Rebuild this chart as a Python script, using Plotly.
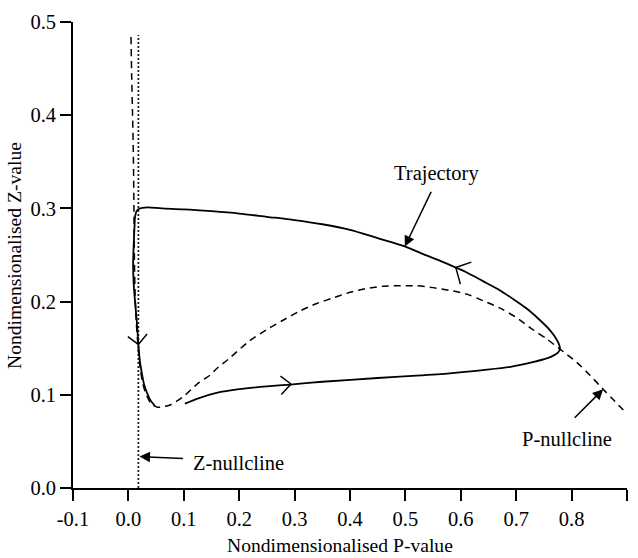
import plotly.graph_objects as go

# ---------------- data ----------------
traj_x = [0.102, 0.125, 0.159, 0.2, 0.25, 0.292, 0.35, 0.45, 0.52, 0.58, 0.64, 0.69, 0.730, 0.755, 0.767,
          0.775, 0.779, 0.778, 0.775, 0.769, 0.760, 0.743, 0.72, 0.70, 0.671, 0.64, 0.61, 0.593, 0.56,
          0.53, 0.50, 0.45, 0.40, 0.35, 0.30, 0.25, 0.20, 0.15, 0.10, 0.06, 0.035, 0.025, 0.018, 0.014,
          0.012, 0.011, 0.0095, 0.0085, 0.0095, 0.012, 0.015, 0.018, 0.021, 0.024, 0.028, 0.033, 0.040, 0.048]
traj_y = [0.0905, 0.096, 0.102, 0.106, 0.109, 0.111, 0.114, 0.118, 0.1205, 0.123, 0.1265, 0.130, 0.135, 0.139, 0.142,
          0.145, 0.149, 0.153, 0.157, 0.163, 0.170, 0.180, 0.192, 0.2005, 0.212, 0.222, 0.2315, 0.236, 0.2445,
          0.2515, 0.259, 0.268, 0.277, 0.283, 0.2875, 0.291, 0.2945, 0.297, 0.299, 0.300, 0.301, 0.3005, 0.299, 0.296,
          0.291, 0.28, 0.26, 0.24, 0.22, 0.20, 0.18, 0.154, 0.135, 0.124, 0.112, 0.103, 0.094, 0.088]

pnull_x = [0.0047, 0.006, 0.0075, 0.0089, 0.0095, 0.010, 0.0105, 0.011, 0.012, 0.014, 0.017, 0.021,
           0.026, 0.033, 0.042, 0.053, 0.065, 0.075, 0.099, 0.125, 0.147, 0.159, 0.180, 0.219, 0.25,
           0.279, 0.31, 0.340, 0.37, 0.400, 0.43, 0.460, 0.49, 0.52, 0.55, 0.580, 0.611, 0.64, 0.671,
           0.70, 0.730, 0.755, 0.779, 0.809, 0.833, 0.857, 0.878, 0.898]
pnull_y = [0.484, 0.44, 0.40, 0.359, 0.33, 0.30, 0.27, 0.24, 0.21, 0.18, 0.155, 0.13,
           0.112, 0.099, 0.090, 0.0866, 0.0875, 0.089, 0.098, 0.112, 0.121, 0.128, 0.138, 0.158, 0.170,
           0.180, 0.190, 0.198, 0.204, 0.210, 0.214, 0.2165, 0.217, 0.217, 0.215, 0.212, 0.208, 0.201, 0.193,
           0.183, 0.170, 0.160, 0.149, 0.135, 0.121, 0.106, 0.093, 0.081]

znull_x = [0.018, 0.018]
znull_y = [0.0, 0.486]

x_ticks = [-0.1, 0.0, 0.1, 0.2, 0.3, 0.4, 0.5, 0.6, 0.7, 0.8, 0.9]
x_tick_labels = ["-0.1", "0.0", "0.1", "0.2", "0.3", "0.4", "0.5", "0.6", "0.7", "0.8", "0.9"]
y_ticks = [0.0, 0.1, 0.2, 0.3, 0.4, 0.5]
y_tick_labels = ["0.0", "0.1", "0.2", "0.3", "0.4", "0.5"]

# direction chevrons on trajectory: tip (x, y) and two arm offsets in pixels
chevrons = [
    (0.2935, 0.1116, [(-12, -9), (-11, 12)]),
    (0.591, 0.2365, [(17, -6), (5, 18)]),
    (0.0179, 0.154, [(-12, -9), (10, -12)]),
]

# labelled arrows: label, label position, arrow tip, tail offset (px)
labels = [
    ("Trajectory", 0.557, 0.337, 0.499, 0.2592, 27, -56),
    ("P-nullcline", 0.791, 0.0526, 0.857, 0.106, -30, 30),
    ("Z-nullcline", 0.198, 0.027, 0.020, 0.0337, 45, 2),
]

FONT = "Liberation Serif, Times New Roman, serif"

fig = go.Figure()
fig.add_trace(go.Scatter(x=znull_x, y=znull_y, mode="lines",
                         line=dict(color="#222", width=1.8, dash="2px,2px"), showlegend=False))
fig.add_trace(go.Scatter(x=pnull_x, y=pnull_y, mode="lines", line_shape="spline",
                         line=dict(color="black", width=1.5, dash="7px,5px", smoothing=0.8),
                         showlegend=False))
fig.add_trace(go.Scatter(x=traj_x, y=traj_y, mode="lines", line_shape="spline",
                         line=dict(color="black", width=1.8, smoothing=0.8), showlegend=False))

annotations = []
for tx, ty, arms in chevrons:
    for ax, ay in arms:
        annotations.append(dict(x=tx, y=ty, xref="x", yref="y", text="", showarrow=True,
                                arrowhead=0, arrowwidth=1.5, arrowcolor="black",
                                ax=ax, ay=ay, standoff=0, startstandoff=0))

for text, lx, ly, px_, py_, ax, ay in labels:
    annotations.append(dict(x=lx, y=ly, xref="x", yref="y", text=text, showarrow=False,
                            font=dict(family=FONT, size=20.5, color="black"),
                            xanchor="center", yanchor="middle"))
    annotations.append(dict(x=px_, y=py_, xref="x", yref="y", text="", showarrow=True,
                            arrowhead=2, arrowsize=1.4, arrowwidth=1.5, arrowcolor="black",
                            ax=ax, ay=ay, standoff=0))

annotations.append(dict(x=0.482, y=-0.124, xref="paper", yref="paper",
                        text="Nondimensionalised P-value", showarrow=False,
                        font=dict(family=FONT, size=19.6, color="black"),
                        xanchor="center", yanchor="middle"))
annotations.append(dict(x=-0.1065, y=0.5, xref="paper", yref="paper",
                        text="Nondimensionalised Z-value", showarrow=False, textangle=-90,
                        font=dict(family=FONT, size=19.6, color="black"),
                        xanchor="center", yanchor="middle"))

axis_common = dict(showline=True, linecolor="black", linewidth=1.8, ticks="outside",
                   ticklen=11, tickwidth=1.5, tickcolor="black", showgrid=False, zeroline=False,
                   tickfont=dict(family=FONT, size=20.5, color="black"))

fig.update_layout(
    width=638, height=558,
    margin=dict(l=73, r=11, t=13, b=70),
    paper_bgcolor="white", plot_bgcolor="white",
    xaxis=dict(range=[-0.1, 0.9], tickvals=x_ticks, ticktext=x_tick_labels, **axis_common),
    yaxis=dict(range=[0, 0.5], tickvals=y_ticks, ticktext=y_tick_labels, **axis_common),
    annotations=annotations,
    showlegend=False,
)

fig.write_html("out.html")
